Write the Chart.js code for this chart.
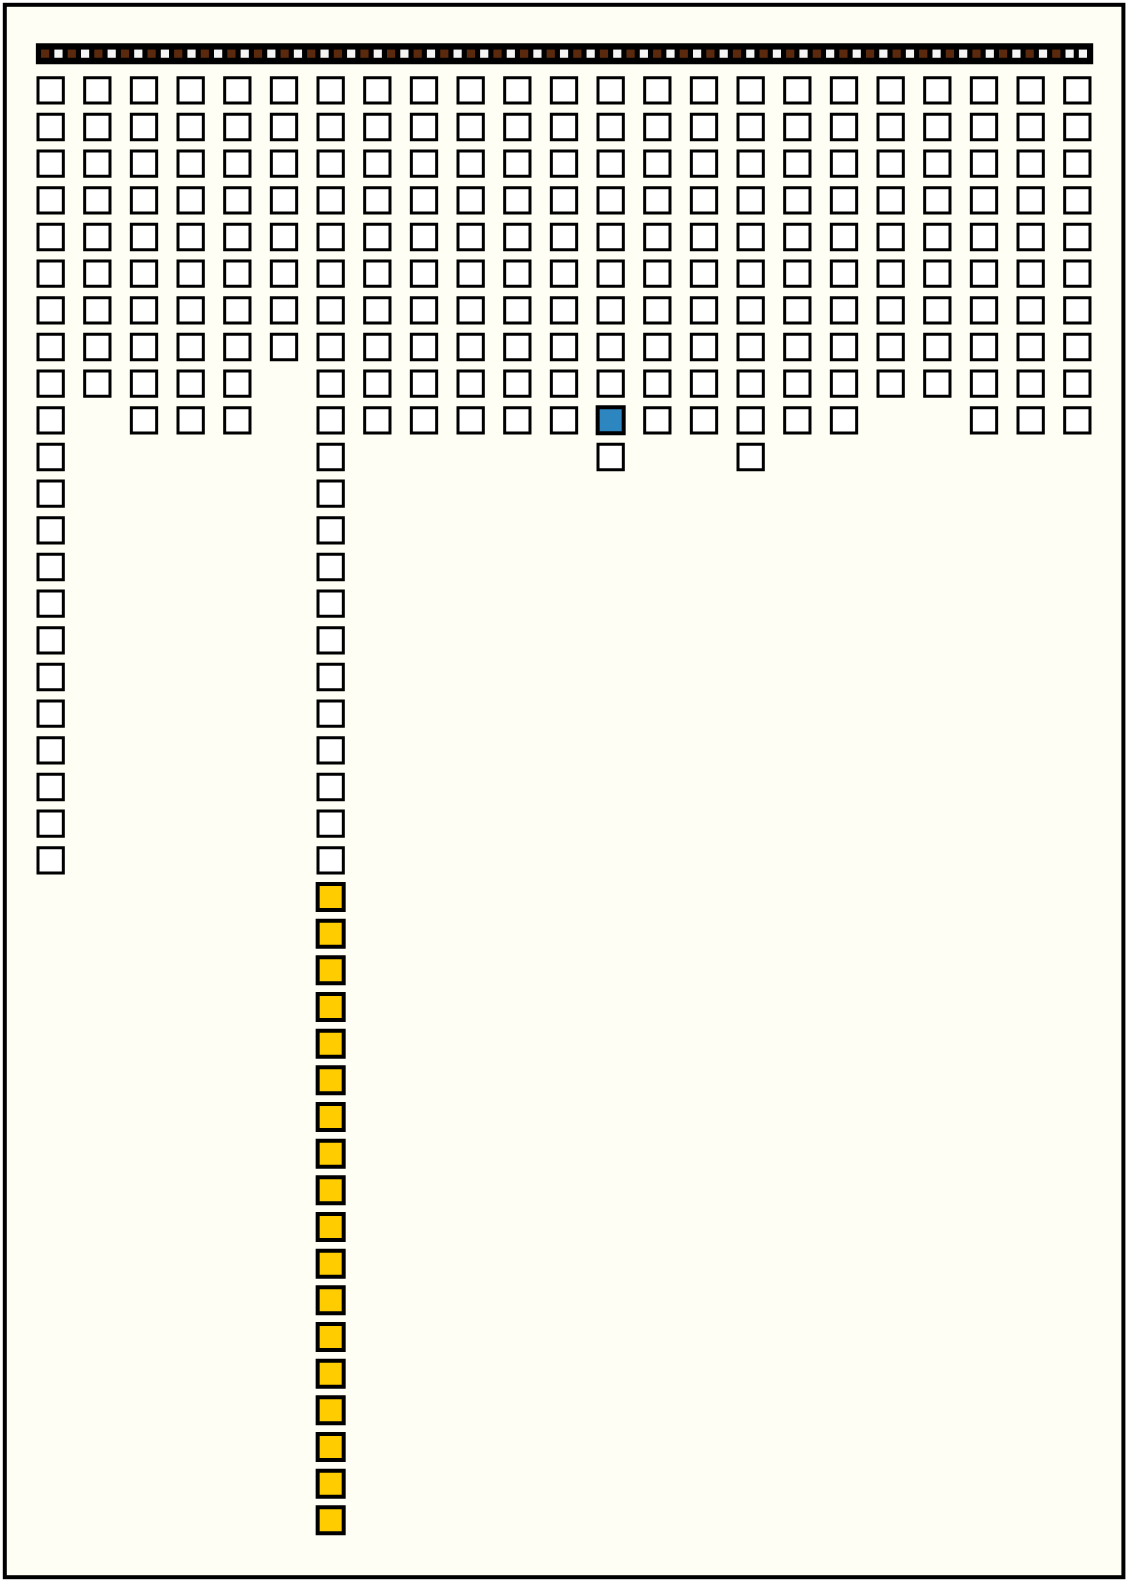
<!DOCTYPE html>
<html>
<head>
<meta charset="utf-8">
<title>Cuadrícula</title>
<script src="https://cdn.jsdelivr.net/npm/chart.js@4.4.1/dist/chart.umd.min.js"></script>
<style>
  html, body { margin: 0; padding: 0; background: #ffffff; }
  canvas { display: block; }
</style>
</head>
<body>
<canvas id="grid" width="1129" height="1583"></canvas>
<script>
/* ==================
    DATOS
================== */

// cuadros por columna (23 columnas)
const conteos = [22, 9, 10, 10, 10, 8, 40, 10, 10, 10, 10, 10, 11, 10, 10, 11, 10, 10, 9, 9, 10, 10, 10];

// celdas resaltadas
const columnaAmarilla = 7;
const filasAmarillas = [23, 24, 25, 26, 27, 28, 29, 30, 31, 32, 33, 34, 35, 36, 37, 38, 39, 40];
const columnaAzul = 13;
const filasAzules = [10];

// franja superior: 1 = marron, 0 = blanco
const franja = [
    1, 0, 1, 0, 1, 0, 1, 0, 1, 0, 1, 0, 1, 0, 1, 0, 1, 0, 1, 0,
    1, 0, 1, 0, 1, 0, 1, 0, 1, 0, 1, 0, 1, 0, 1, 0, 1, 0, 1, 0,
    1, 0, 1, 0, 1, 0, 1, 0, 1, 0, 1, 0, 1, 0, 1, 0, 1, 0, 1, 0,
    1, 0, 1, 0, 1, 0, 1, 0, 1, 0, 1, 0, 1, 0, 1, 0, 1, 0, 0
];

/* ==================
    PUNTOS
================== */

const blancos = [];
const amarillos = [];
const azules = [];

conteos.forEach((n, i) => {
    const col = i + 1;
    for (let fila = 1; fila <= n; fila++) {
        const p = { x: col, y: fila };
        if (col === columnaAmarilla && filasAmarillas.includes(fila)) amarillos.push(p);
        else if (col === columnaAzul && filasAzules.includes(fila)) azules.push(p);
        else blancos.push(p);
    }
});

// posicion de la franja en unidades del eje x
const franjaInicio = 0.882;
const franjaPaso = 0.2851;
const franjaMarron = [];
const franjaBlanca = [];
franja.forEach((v, i) => {
    const p = { x: franjaInicio + i * franjaPaso, y: 0 };
    if (v === 1) franjaMarron.push(p);
    else franjaBlanca.push(p);
});

/* ==================
    MARCO
================== */

const marco = {
    id: 'marco',
    beforeDraw(chart) {
        const ctx = chart.ctx;
        ctx.save();
        ctx.fillStyle = '#fefef4';
        ctx.fillRect(4, 4, 1120, 1574);
        ctx.strokeStyle = '#000000';
        ctx.lineWidth = 4;
        ctx.strokeRect(4.8, 4.8, 1118.6, 1572.4);
        ctx.restore();
    }
};

const ctx = document.getElementById('grid').getContext('2d');
new Chart(ctx, {
    type: 'scatter',
    data: {
        datasets: [
            {
                label: 'Franja marron',
                data: franjaMarron,
                pointStyle: 'rect',
                pointRadius: 5.8,
                backgroundColor: '#5b2a0e',
                borderWidth: 0,
                order: 1
            },
            {
                label: 'Franja blanca',
                data: franjaBlanca,
                pointStyle: 'rect',
                pointRadius: 5.8,
                backgroundColor: '#f4f4f4',
                borderWidth: 0,
                order: 1
            },
            {
                type: 'line',
                label: 'Barra',
                data: [{ x: 0.683, y: 0 }, { x: 23.34, y: 0 }],
                borderColor: '#000000',
                borderWidth: 21,
                pointRadius: 0,
                order: 5
            },
            {
                label: 'Azul',
                data: azules,
                pointStyle: 'rect',
                pointRadius: 18.4,
                backgroundColor: '#2e86c1',
                borderColor: '#000000',
                borderWidth: 4,
                order: 2
            },
            {
                label: 'Amarillo',
                data: amarillos,
                pointStyle: 'rect',
                pointRadius: 18.4,
                backgroundColor: '#ffcc00',
                borderColor: '#000000',
                borderWidth: 4,
                order: 2
            },
            {
                label: 'Blanco',
                data: blancos,
                pointStyle: 'rect',
                pointRadius: 17.9,
                backgroundColor: '#ffffff',
                borderColor: '#000000',
                borderWidth: 3,
                order: 3
            }
        ]
    },
    options: {
        responsive: false,
        animation: false,
        events: [],
        layout: {
            autoPadding: false,
            padding: { left: 4, right: 5, top: 17, bottom: 26 }
        },
        plugins: {
            legend: { display: false },
            tooltip: { enabled: false }
        },
        scales: {
            x: { type: 'linear', min: 0, max: 24, display: false },
            y: { type: 'linear', min: -1, max: 41, reverse: true, display: false }
        }
    },
    plugins: [marco]
});
</script>
</body>
</html>
